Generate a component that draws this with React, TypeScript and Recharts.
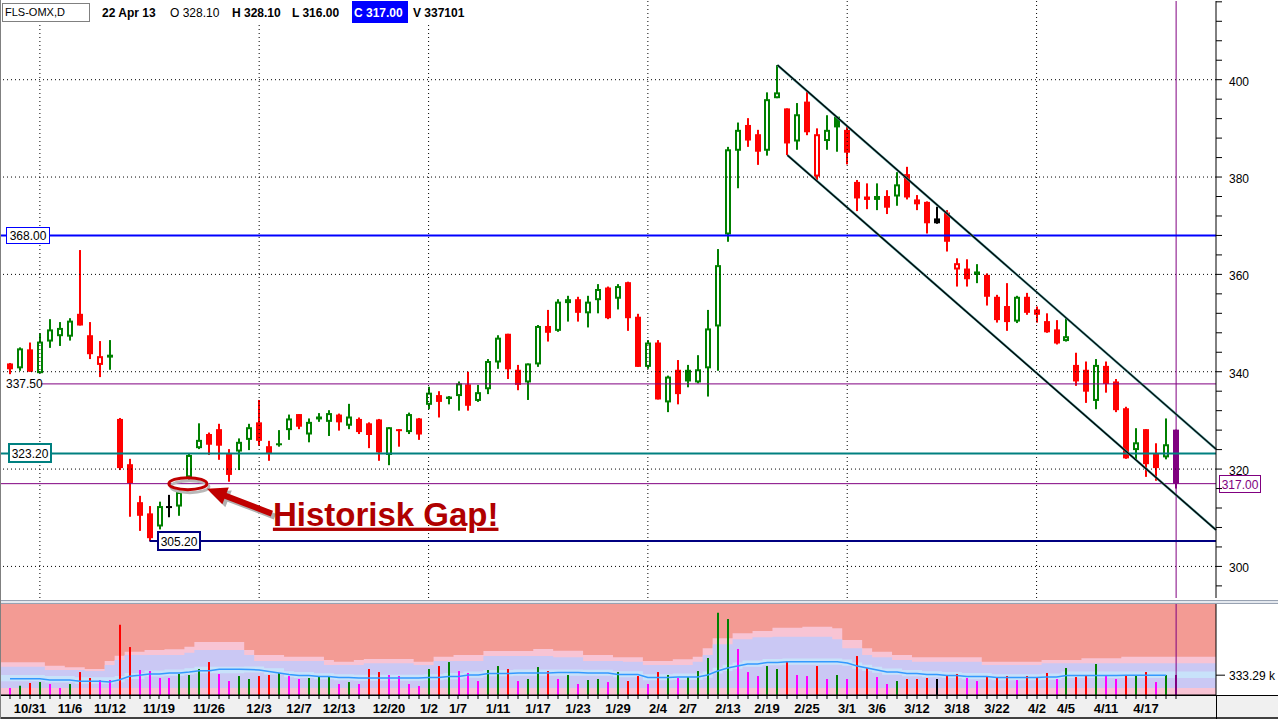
import React from 'react';
import {
  ComposedChart, Bar, Line, Area, XAxis, YAxis, ReferenceLine, ReferenceDot, CartesianGrid,
} from 'recharts';

// FLS-OMX daily, 29 Oct 2012 - 22 Apr 2013
const dates = [
  '10/29', '10/30', '10/31', '11/1', '11/2', '11/5', '11/6', '11/7', '11/8', '11/9',
  '11/12', '11/13', '11/14', '11/15', '11/16', '11/19', '11/20', '11/21', '11/22', '11/23',
  '11/26', '11/27', '11/28', '11/29', '11/30', '12/3', '12/4', '12/5', '12/6', '12/7',
  '12/10', '12/11', '12/12', '12/13', '12/14', '12/17', '12/18', '12/19', '12/20', '12/21',
  '12/27', '12/28', '1/2', '1/3', '1/4', '1/7', '1/8', '1/9', '1/10', '1/11',
  '1/14', '1/15', '1/16', '1/17', '1/18', '1/21', '1/22', '1/23', '1/24', '1/25',
  '1/28', '1/29', '1/30', '1/31', '2/1', '2/4', '2/5', '2/6', '2/7', '2/8',
  '2/11', '2/12', '2/13', '2/14', '2/15', '2/18', '2/19', '2/20', '2/21', '2/22',
  '2/25', '2/26', '2/27', '2/28', '3/1', '3/4', '3/5', '3/6', '3/7', '3/8',
  '3/11', '3/12', '3/13', '3/14', '3/15', '3/18', '3/19', '3/20', '3/21', '3/22',
  '3/25', '3/26', '3/27', '4/2', '4/3', '4/4', '4/5', '4/8', '4/9', '4/10',
  '4/11', '4/12', '4/15', '4/16', '4/17', '4/18', '4/19', '4/22',
];

const opens = [
  341.7, 340.7, 344.6, 339.7, 346.2, 347.3, 347.2, 351.9, 347.5, 341.4,
  342.9, 330.3, 321.0, 313.2, 310.9, 308.2, 312.4, 312.3, 318.3, 324.3,
  327.2, 328.2, 323.2, 323.6, 326.0, 329.6, 324.7, 325.3, 328.0, 331.3,
  327.1, 330.8, 329.7, 331.2, 328.9, 330.3, 329.4, 330.2, 322.9, 328.2,
  327.6, 330.4, 333.2, 335.2, 334.9, 335.0, 337.4, 334.0, 336.4, 341.9,
  347.8, 340.4, 337.8, 341.5, 349.4, 348.4, 354.1, 354.9, 352.0, 354.7,
  357.3, 355.0, 358.4, 351.3, 341.0, 346.0, 333.7, 340.4, 340.4, 337.8,
  340.7, 349.3, 368.2, 385.4, 390.7, 388.8, 385.4, 396.2, 394.1, 387.3,
  395.5, 380.1, 387.4, 392.4, 389.7, 379.0, 376.0, 375.3, 376.1, 376.0,
  380.6, 375.4, 374.9, 371.5, 372.7, 361.0, 361.2, 360.6, 359.9, 355.4,
  353.5, 350.3, 355.4, 352.8, 350.4, 348.7, 346.3, 341.4, 340.4, 334.0,
  341.2, 338.0, 332.5, 323.9, 328.2, 323.2, 322.4, 328.1,
];
const highs = [
  341.8, 345.0, 346.0, 347.9, 350.8, 350.2, 351.0, 365.0, 350.2, 346.3,
  346.5, 330.5, 322.1, 314.5, 312.4, 313.3, 314.7, 315.8, 323.2, 329.4,
  327.5, 329.3, 324.1, 326.3, 329.3, 334.2, 325.8, 328.0, 331.2, 331.3,
  330.4, 331.5, 332.1, 331.4, 333.4, 330.6, 329.6, 330.3, 328.6, 328.2,
  331.6, 330.5, 336.9, 336.0, 335.0, 338.0, 340.0, 337.3, 342.6, 347.5,
  347.8, 341.4, 341.7, 349.6, 352.7, 354.9, 355.6, 355.4, 355.6, 358.0,
  357.5, 358.0, 358.5, 351.9, 346.5, 346.5, 339.2, 342.4, 341.4, 343.4,
  352.7, 365.2, 386.2, 391.2, 392.1, 389.7, 397.4, 403.0, 394.1, 395.2,
  397.5, 390.0, 392.7, 392.4, 390.7, 379.4, 378.7, 378.7, 377.3, 381.0,
  382.1, 376.3, 375.0, 373.9, 373.2, 363.3, 363.1, 362.1, 360.2, 355.8,
  358.2, 355.6, 356.2, 353.4, 352.0, 350.6, 351.0, 343.9, 342.1, 342.6,
  342.1, 338.5, 332.8, 328.4, 328.2, 325.3, 330.4, 328.1,
];
const lows = [
  339.5, 340.2, 340.0, 339.7, 344.9, 345.3, 346.4, 349.5, 342.6, 338.9,
  340.4, 319.8, 310.2, 307.3, 305.2, 307.6, 310.1, 310.4, 317.4, 324.1,
  322.9, 321.9, 317.4, 319.8, 323.9, 324.8, 321.7, 324.6, 326.0, 328.2,
  325.5, 329.7, 326.8, 327.9, 328.2, 327.2, 324.3, 321.7, 320.8, 324.6,
  327.2, 326.0, 332.3, 330.6, 333.3, 332.0, 332.0, 333.8, 335.4, 340.6,
  338.5, 336.2, 334.2, 341.0, 346.2, 348.2, 350.3, 350.3, 349.1, 352.0,
  350.8, 352.8, 348.4, 341.0, 340.6, 334.3, 331.7, 333.3, 336.8, 337.6,
  334.9, 340.2, 366.7, 377.7, 386.2, 382.5, 384.4, 396.2, 384.5, 385.6,
  388.6, 379.4, 385.6, 385.2, 382.6, 373.0, 373.4, 373.2, 372.4, 374.1,
  375.4, 373.2, 368.4, 370.4, 364.7, 357.5, 357.5, 358.2, 353.6, 350.1,
  348.4, 350.0, 351.7, 350.1, 348.0, 345.6, 346.2, 337.1, 333.6, 332.3,
  335.7, 331.7, 322.1, 321.9, 318.4, 317.6, 322.0, 316.0,
];
const closes = [
  340.5, 344.8, 340.0, 346.2, 348.7, 349.0, 350.5, 349.5, 343.6, 343.2,
  343.5, 320.2, 317.1, 310.4, 305.8, 312.4, 312.4, 315.3, 322.9, 326.0,
  325.0, 324.8, 318.8, 325.6, 328.6, 325.8, 323.2, 325.0, 330.4, 328.7,
  329.7, 330.2, 331.5, 329.6, 330.8, 327.6, 327.0, 323.4, 328.6, 327.9,
  331.3, 327.1, 335.7, 333.8, 334.4, 337.6, 333.0, 335.8, 342.2, 347.0,
  340.5, 337.3, 341.7, 349.4, 348.0, 354.4, 354.9, 352.1, 354.4, 357.0,
  351.0, 357.6, 351.0, 341.0, 346.0, 334.3, 339.0, 335.4, 338.0, 340.5,
  348.9, 361.9, 385.7, 389.7, 387.5, 385.2, 396.0, 397.4, 386.9, 392.9,
  389.2, 388.8, 389.7, 390.2, 385.0, 375.6, 375.3, 376.1, 373.7, 378.5,
  375.8, 374.4, 370.5, 370.5, 366.7, 362.3, 359.0, 359.9, 355.4, 350.6,
  350.2, 355.4, 352.1, 351.7, 348.1, 345.8, 347.3, 338.0, 335.9, 341.4,
  337.5, 332.1, 322.2, 325.5, 321.0, 320.2, 325.1, 317.0,
];

// volume in thousands of shares
const volumes = [
  118, 156, 202, 218, 185, 118, 185, 386, 286, 252,
  252, 1181, 806, 420, 403, 286, 286, 353, 336, 437,
  554, 353, 235, 319, 269, 319, 336, 370, 319, 269,
  286, 319, 319, 185, 218, 185, 437, 386, 336, 319,
  185, 151, 437, 487, 554, 403, 370, 235, 420, 487,
  437, 235, 269, 470, 403, 269, 336, 185, 252, 269,
  218, 386, 235, 319, 185, 386, 336, 286, 302, 403,
  622, 1383, 1277, 773, 386, 319, 487, 437, 571, 336,
  319, 487, 269, 336, 269, 655, 454, 302, 185, 235,
  269, 269, 286, 269, 336, 353, 286, 235, 319, 302,
  319, 252, 319, 286, 370, 269, 454, 302, 319, 521,
  319, 269, 328, 328, 386, 218, 336, 337.101,
];
// bars drawn in magenta (1-based bar numbers)
const quietBars = [
  1, 5, 6, 10, 11, 14, 15, 16, 17, 22, 23, 29, 30, 34, 36, 39, 40, 41, 42, 46, 47, 48,
  52, 56, 58, 61, 65, 68, 74, 75, 76, 80, 81, 83, 85, 88, 89, 97, 98, 102, 106, 111, 112, 116,
];

// volume average and its bands: [first bar, value...]
const maSteps: [number, number | null][] = [
  [1, 274], [5, 252], [8, 230], [11, 218], [12, 257], [13, 314], [14, 331], [15, 353], [17, 370],
  [19, 386], [20, 408], [22, 432], [25, 428], [26, 420], [27, 395], [28, 370], [29, 344], [30, 328],
  [32, 311], [34, 294], [36, 286], [43, 294], [45, 311], [47, 336], [49, 361], [52, 370], [56, 378],
  [59, 370], [62, 344], [65, 294], [68, 302], [71, 336], [72, 403], [73, 454], [74, 487], [75, 521],
  [77, 546], [79, 559], [85, 538], [86, 487], [87, 454], [88, 420], [89, 386], [91, 361], [93, 344],
  [95, 328], [97, 311], [100, 294], [105, 302], [107, 328], [113, 333.29], [118, null],
];
const innerBandSteps: number[][] = [
  [1, 230, 336], [5, 210, 320], [8, 190, 300], [12, 215, 320], [13, 270, 370], [15, 310, 410],
  [17, 325, 430], [19, 345, 450], [20, 365, 475], [25, 380, 480], [27, 345, 450], [29, 300, 400],
  [30, 285, 385], [32, 265, 365], [34, 250, 350], [36, 240, 340], [43, 250, 350], [45, 265, 370],
  [47, 290, 395], [49, 315, 420], [52, 325, 430], [59, 325, 425], [62, 300, 400], [65, 250, 350],
  [68, 255, 360], [71, 290, 395], [72, 360, 460], [73, 405, 510], [74, 440, 545], [75, 475, 580],
  [77, 500, 605], [79, 510, 615], [85, 490, 595], [86, 440, 545], [87, 405, 510], [88, 375, 475],
  [89, 340, 445], [91, 315, 420], [93, 300, 400], [95, 285, 385], [97, 265, 370], [100, 250, 350],
  [105, 255, 360], [107, 285, 395],
];
const middleBandSteps: number[][] = [
  [1, 475], [5, 420], [9, 403], [11, 504], [12, 588], [13, 672], [19, 711], [20, 756], [25, 672],
  [26, 571], [33, 504], [37, 533], [42, 504], [44, 571], [49, 655], [56, 633], [59, 571], [63, 559],
  [65, 504], [70, 559], [71, 672], [72, 852], [74, 936], [76, 969], [78, 979], [84, 936], [85, 785],
  [87, 672], [88, 633], [90, 588], [92, 559], [99, 504], [105, 533],
];
const outerBandSteps: number[][] = [
  [1, 549], [5, 492], [7, 465], [9, 437], [11, 571], [12, 660], [13, 727], [15, 756], [17, 768],
  [19, 811], [20, 890], [25, 756], [26, 672], [29, 643], [33, 588], [34, 559], [36, 588], [37, 605],
  [42, 559], [44, 643], [46, 672], [49, 739], [54, 773], [56, 744], [59, 672], [62, 633], [65, 571],
  [68, 600], [70, 643], [71, 785], [72, 953], [74, 1037], [76, 1075], [78, 1131], [81, 1147],
  [84, 1121], [85, 924], [87, 785], [88, 727], [90, 672], [92, 633], [99, 559], [105, 588],
  [109, 617], [113, 643],
];
const floorBandSteps: number[][] = [[1, 118]];

const labelDates = [
  '10/31', '11/6', '11/12', '11/19', '11/26', '12/3', '12/7', '12/13', '12/20', '1/2', '1/7', '1/11',
  '1/17', '1/23', '1/29', '2/4', '2/7', '2/13', '2/19', '2/25', '3/1', '3/6', '3/12', '3/18', '3/22',
  '4/2', '4/5', '4/11', '4/17',
];
const monthStarts = ['11/1', '12/3', '1/2', '2/1', '3/1', '4/2'];
const gridPrices = [300, 320, 340, 360, 380, 400];

const resistance = 368.0;
const pivot = 337.5;
const support = 323.2;
const lastClose = 317.0;
const swingLow = 305.2;
const swingLowBar = 15;
const channelTop = { bar: 78, price: 403.0, endPrice: 324.1 };
const channelBottom = { bar: 79, price: 384.5, endPrice: 307.5 };
const gapMark = { pos: 18.85, price: 317.0 };

// ---- layout ----
const FONT = '"Liberation Sans", Arial, sans-serif';
const CHART_W = 1278;
const AXIS_W = 62;
const PLOT_L = 1;
const PLOT_R = CHART_W - AXIS_W;
const PAD_L = 4;
const PAD_R = 5;
const EMPTY_SLOTS = 3;
const SLOTS = dates.length + EMPTY_SLOTS;
const BAND = (PLOT_R - PLOT_L - PAD_L - PAD_R) / SLOTS;
const X_MIN = 0.5 - PAD_L / BAND;
const X_MAX = SLOTS + 0.5 + PAD_R / BAND;
const PRICE_MIN = 293.51;
const PRICE_MAX = 416.17;
const VOL_MAX = 1530;

const UP = '#008000';
const DOWN = '#ff0000';
const FLAT = '#000000';
const SELECTED = '#800080';
const QUIET = '#ff00ff';

const last = dates.length - 1;
const candleColor = (i: number) => {
  if (i === last) return SELECTED;
  const ref = i === 0 ? opens[0] : closes[i - 1];
  return closes[i] > ref ? UP : closes[i] < ref ? DOWN : FLAT;
};

const expandSteps = (steps: [number, number | null][], n: number) => {
  const out: (number | null)[] = [];
  let k = 0;
  for (let i = 1; i <= n; i++) {
    while (k + 1 < steps.length && steps[k + 1][0] <= i) k++;
    out.push(steps[k][1]);
  }
  return out;
};
const maValues = expandSteps(maSteps, dates.length);

const stepRows = (steps: number[][]) => {
  const out = steps.map(([start, ...v], k) => ({
    idx: k === 0 ? X_MIN : start - 0.5,
    lo: v.length > 1 ? v[0] : 0,
    hi: v[v.length - 1],
  }));
  out.push({ ...out[out.length - 1], idx: X_MAX });
  return out;
};

const rows = Array.from({ length: SLOTS }, (_, i) => {
  if (i > last) return { date: `pad${i}`, idx: i + 1 };
  return {
    date: dates[i],
    idx: i + 1,
    o: opens[i], h: highs[i], l: lows[i], c: closes[i],
    range: [lows[i], highs[i]],
    color: candleColor(i),
    vol: volumes[i],
    volColor: quietBars.includes(i + 1) ? QUIET : candleColor(i),
    ma: maValues[i],
  };
});

const priceTicks: number[] = [];
for (let p = 296; p <= 416; p += 4) priceTicks.push(p);

// ---- shapes ----
const Candle = (props: any) => {
  const { x, y, width, height, payload } = props;
  if (!payload || payload.h == null) return null;
  const cx = Math.round(x + width / 2);
  const span = payload.h - payload.l;
  const at = (v: number) => y + (span > 0 ? ((payload.h - v) / span) * height : 0);
  const top = at(Math.max(payload.o, payload.c));
  const bot = at(Math.min(payload.o, payload.c));
  const col = payload.color;
  return (
    <g>
      <rect x={cx - 1} y={y} width={2} height={Math.max(height, 1)} fill={col} />
      {payload.c > payload.o ? (
        <rect x={cx - 2} y={top + 1} width={4} height={Math.max(bot - top - 2, 0)} fill="#fff" stroke={col} strokeWidth={2} />
      ) : (
        <rect x={cx - 3} y={top} width={6} height={Math.max(bot - top, 2)} fill={col} />
      )}
    </g>
  );
};

const VolumeBar = (props: any) => {
  const { x, y, width, height, payload } = props;
  if (!payload || payload.vol == null) return null;
  return <rect x={Math.round(x + width / 2) - 1} y={y} width={2} height={height} fill={payload.volColor} />;
};

const PriceTick = ({ x, y, payload }: any) => (
  <g>
    <line x1={x} x2={x + 6} y1={y} y2={y} stroke="#000" />
    {payload.value % 20 === 0 && (
      <text x={x + 13} y={y + 6} fontSize={12} fontFamily={FONT} fill="#000">{payload.value}</text>
    )}
  </g>
);

const VolumeTick = ({ x, y, payload }: any) => (
  <g>
    <line x1={x} x2={x + 9} y1={y} y2={y} stroke="#000" />
    <text x={x + 13} y={y + 5} fontSize={12} fontFamily={FONT} fill="#000">{`${payload.value} k`}</text>
  </g>
);

const DateTick = ({ x, y, payload }: any) => {
  if (!dates.includes(payload.value)) return null;
  const cx = Math.round(x);
  return (
    <g>
      <line x1={cx} x2={cx} y1={y} y2={y + 4} stroke="#000" />
      {labelDates.includes(payload.value) && (
        <text x={cx} y={y + 18} textAnchor="middle" fontSize={13} fontWeight="bold" fontFamily={FONT} fill="#000">
          {payload.value}
        </text>
      )}
    </g>
  );
};

const PriceTag = ({ viewBox, text, dx, w, h, border, bw, color = '#000', right }: any) => {
  if (!viewBox) return null;
  const left = Math.round((right ? viewBox.x + viewBox.width : viewBox.x) + dx);
  const top = Math.round(viewBox.y - h / 2);
  return (
    <g>
      <rect x={left + bw / 2} y={top + bw / 2} width={w - bw} height={h - bw} fill="#fff" stroke={border} strokeWidth={bw} />
      <text x={left + w / 2} y={top + h / 2 + 4.5} textAnchor="middle" fontSize={12} fontFamily={FONT} fill={color}>{text}</text>
    </g>
  );
};

const PlainTag = ({ viewBox, text }: any) => {
  if (!viewBox) return null;
  return (
    <g>
      <rect x={viewBox.x} y={viewBox.y - 7} width={40} height={14} fill="#fff" />
      <text x={viewBox.x + 5} y={viewBox.y + 4.5} fontSize={12} fontFamily={FONT} fill="#000">{text}</text>
    </g>
  );
};

const arrowPoints = (tx: number, ty: number, sx: number, sy: number) => {
  const dx = tx - sx;
  const dy = ty - sy;
  const len = Math.hypot(dx, dy);
  const ux = dx / len;
  const uy = dy / len;
  const px = -uy;
  const py = ux;
  const bx = tx - 20 * ux;
  const by = ty - 20 * uy;
  const pts = [
    [tx, ty], [bx + 9 * px, by + 9 * py], [bx + 3 * px, by + 3 * py], [sx + 3 * px, sy + 3 * py],
    [sx - 3 * px, sy - 3 * py], [bx - 3 * px, by - 3 * py], [bx - 9 * px, by - 9 * py],
  ];
  return pts.map((p) => p.join(',')).join(' ');
};

const GapNote = ({ cx, cy }: any) => {
  if (cx == null) return null;
  const arrow = arrowPoints(cx + 19, cy + 5, cx + 84, cy + 30);
  return (
    <g>
      <ellipse cx={cx + 2} cy={cy + 3} rx={19} ry={6} fill="none" stroke="#b8b8b8" strokeWidth={3} />
      <ellipse cx={cx} cy={cy} rx={19} ry={6} fill="none" stroke="#c00000" strokeWidth={3} />
      <polygon points={arrow} fill="#b0b0b0" transform="translate(3,3)" />
      <polygon points={arrow} fill="#c00000" />
      <text x={cx + 85} y={cy + 42} fontSize={33} fontWeight="bold" fontFamily={FONT} fill="#b00000" textDecoration="underline">
        Historisk Gap!
      </text>
    </g>
  );
};

const header = {
  symbol: 'FLS-OMX,D',
  day: '22 Apr 13',
};

export default function App() {
  const fmt = (v: number) => v.toFixed(2);
  return (
    <div style={{ position: 'relative', width: CHART_W, height: 719, overflow: 'hidden', background: '#fff', fontFamily: FONT }}>
      <style>{'body{margin:0}'}</style>

      {/* price panel */}
      <div style={{ position: 'absolute', left: 0, top: 0 }}>
        <ComposedChart width={CHART_W} height={600} data={rows} margin={{ top: 1, right: 0, bottom: 2, left: PLOT_L }}>
          <XAxis dataKey="date" hide padding={{ left: PAD_L, right: PAD_R }} />
          <XAxis xAxisId="num" type="number" dataKey="idx" hide domain={[X_MIN, X_MAX]} allowDataOverflow />
          <YAxis
            orientation="right" width={AXIS_W} domain={[PRICE_MIN, PRICE_MAX]} allowDataOverflow
            ticks={priceTicks} interval={0} tick={<PriceTick />} tickLine={false} tickSize={0} tickMargin={0}
            axisLine={{ stroke: '#000' }}
          />
          {gridPrices.map((p) => (
            <ReferenceLine key={p} y={p} stroke="#000" strokeDasharray="1 3" />
          ))}
          {monthStarts.map((d) => (
            <ReferenceLine key={d} x={d} stroke="#000" strokeDasharray="1 3" />
          ))}
          <ReferenceLine x={dates[last]} stroke={SELECTED} />
          <Bar dataKey="range" shape={<Candle />} isAnimationActive={false} />
          <ReferenceLine
            y={resistance} stroke="#0000ff" strokeWidth={2}
            label={<PriceTag text={fmt(resistance)} dx={5} w={44} h={17} border="#0000ff" bw={1} />}
          />
          <ReferenceLine y={pivot} stroke={SELECTED} label={<PlainTag text={fmt(pivot)} />} />
          <ReferenceLine
            y={support} stroke="#008080" strokeWidth={2}
            label={<PriceTag text={fmt(support)} dx={7} w={44} h={20} border="#008080" bw={2} />}
          />
          <ReferenceLine
            y={lastClose} stroke={SELECTED}
            label={<PriceTag text={fmt(lastClose)} dx={3} w={42} h={18} border={SELECTED} bw={1} color={SELECTED} right />}
          />
          <ReferenceLine
            xAxisId="num" stroke="#000080" strokeWidth={2} ifOverflow="visible"
            segment={[{ x: swingLowBar, y: swingLow }, { x: X_MAX, y: swingLow }]}
            label={<PriceTag text={fmt(swingLow)} dx={7} w={44} h={20} border="#000080" bw={2} />}
          />
          {[channelTop, channelBottom].map((c) => (
            <ReferenceLine
              key={c.bar} xAxisId="num" stroke="#4a9a9a" strokeWidth={2.4} ifOverflow="visible"
              segment={[{ x: c.bar, y: c.price }, { x: X_MAX, y: c.endPrice }]}
            />
          ))}
          {[channelTop, channelBottom].map((c) => (
            <ReferenceLine
              key={`k${c.bar}`} xAxisId="num" stroke="#000" strokeWidth={1.3} ifOverflow="visible"
              segment={[{ x: c.bar, y: c.price }, { x: X_MAX, y: c.endPrice }]}
            />
          ))}
          <ReferenceDot xAxisId="num" x={gapMark.pos} y={gapMark.price} shape={<GapNote />} ifOverflow="visible" />
        </ComposedChart>
      </div>

      {/* header */}
      <div style={{ position: 'absolute', left: 0, top: 0, width: 500, height: 22, background: '#fff' }} />
      <div style={{ position: 'absolute', left: 2, top: 3, width: 84, height: 17, border: '1px solid #808080', background: '#fff', fontSize: 11, lineHeight: '17px', paddingLeft: 2, boxSizing: 'content-box' }}>
        {header.symbol}
      </div>
      <div style={{ position: 'absolute', left: 352, top: 1, width: 56, height: 22, background: '#0000ff' }} />
      {[
        { t: header.day, x: 102, b: true },
        { t: `O ${fmt(opens[last])}`, x: 170, b: false },
        { t: `H ${fmt(highs[last])}`, x: 232, b: true },
        { t: `L ${fmt(lows[last])}`, x: 292, b: true },
        { t: `C ${fmt(closes[last])}`, x: 354, b: true, c: '#fff' },
        { t: `V ${Math.round(volumes[last] * 1000)}`, x: 413, b: true },
      ].map((h) => (
        <div key={h.x} style={{ position: 'absolute', left: h.x, top: 6, fontSize: 12, lineHeight: '14px', fontWeight: h.b ? 'bold' : 'normal', color: h.c || '#000', whiteSpace: 'nowrap' }}>
          {h.t}
        </div>
      ))}

      {/* panel separator */}
      <div style={{ position: 'absolute', left: 0, top: 600, width: CHART_W, height: 4, background: '#e4e8ee', borderTop: '1px solid #98a2b2', borderBottom: '1px solid #98a2b2', boxSizing: 'border-box' }} />

      {/* volume panel */}
      <div style={{ position: 'absolute', left: 0, top: 695, width: CHART_W, height: 24, background: '#f0f0f0', borderTop: '1px solid #000', borderBottom: '2px solid #404040', boxSizing: 'border-box' }} />
      <div style={{ position: 'absolute', left: PLOT_R, top: 695, width: 1, height: 24, background: '#000' }} />
      <div style={{ position: 'absolute', left: 0, top: 600 }}>
        <ComposedChart width={CHART_W} height={119} data={rows} margin={{ top: 4, right: 0, bottom: 0, left: PLOT_L }}>
          <CartesianGrid fill="#f39b94" horizontal={false} vertical={false} stroke="none" />
          <XAxis
            dataKey="date" padding={{ left: PAD_L, right: PAD_R }} interval={0} height={24}
            tick={<DateTick />} tickLine={false} tickSize={0} tickMargin={0} axisLine={{ stroke: '#000' }}
          />
          <XAxis xAxisId="num" type="number" dataKey="idx" hide domain={[X_MIN, X_MAX]} allowDataOverflow />
          <YAxis
            orientation="right" width={AXIS_W} domain={[0, VOL_MAX]} allowDataOverflow ticks={[333.29]}
            tick={<VolumeTick />} tickLine={false} tickSize={0} tickMargin={0} axisLine={{ stroke: '#000' }}
          />
          <Area xAxisId="num" data={stepRows(outerBandSteps)} dataKey={(r: any) => [r.lo, r.hi]} type="stepAfter" fill="#f8c4d4" fillOpacity={1} stroke="none" isAnimationActive={false} />
          <Area xAxisId="num" data={stepRows(middleBandSteps)} dataKey={(r: any) => [r.lo, r.hi]} type="stepAfter" fill="#cac8f4" fillOpacity={1} stroke="none" isAnimationActive={false} />
          <Area xAxisId="num" data={stepRows(innerBandSteps)} dataKey={(r: any) => [r.lo, r.hi]} type="stepAfter" fill="#c8e2fa" fillOpacity={1} stroke="none" isAnimationActive={false} />
          <Area xAxisId="num" data={stepRows(floorBandSteps)} dataKey={(r: any) => [r.lo, r.hi]} type="stepAfter" fill="#f8c4d4" fillOpacity={1} stroke="none" isAnimationActive={false} />
          <Line dataKey="ma" stroke="#3399ff" strokeWidth={1.5} dot={false} isAnimationActive={false} />
          <ReferenceLine x={dates[last]} stroke={SELECTED} />
          <Bar dataKey="vol" shape={<VolumeBar />} isAnimationActive={false} />
        </ComposedChart>
      </div>
      <div style={{ position: 'absolute', left: 0, top: 0, width: 1, height: 719, background: '#808080' }} />
    </div>
  );
}
